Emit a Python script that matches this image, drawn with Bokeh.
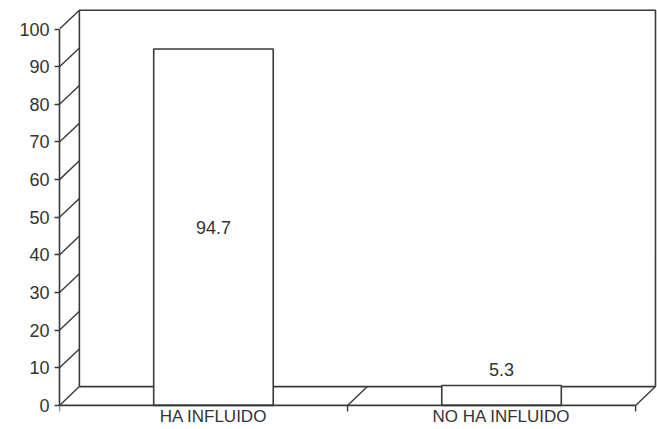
from bokeh.plotting import figure
from bokeh.models import Range1d, FixedTicker, ColumnDataSource
from bokeh.core.properties import value
from bokeh.embed import file_html
from bokeh.resources import INLINE

# ---- data ----
categories = ["HA INFLUIDO", "NO HA INFLUIDO"]
values = [94.7, 5.3]
value_labels = ["94.7", "5.3"]
y_ticks = [0, 10, 20, 30, 40, 50, 60, 70, 80, 90, 100]

# ---- style / geometry constants ----
INK = "#3a3a3a"
TXT = "#333333"
FONT = "Liberation Sans"
DEPTH_X = 0.069      # pseudo-3D depth, in category widths
DEPTH_Y = 5.0        # pseudo-3D depth, in value units
BAR_W = 0.415
X_END = 2.076
Y_START = -6.4
Y_END = 107.6
Y_MAX = 100
TICK_DOWN = 1.6      # length of floor tick marks, in value units

n = len(categories)
centers = [i + 0.5 + DEPTH_X / 2 for i in range(n)]

p = figure(width=657, height=429, x_range=Range1d(0, X_END), y_range=Range1d(Y_START, Y_END),
           output_backend="svg", toolbar_location=None,
           min_border_left=59, min_border_right=0, min_border_top=0, min_border_bottom=0)
p.outline_line_color = None
p.xgrid.visible = False
p.ygrid.visible = False
p.xaxis.visible = False
p.background_fill_color = "white"
p.border_fill_color = "white"

# back wall
wx0, wx1 = DEPTH_X, n + DEPTH_X
wy0, wy1 = DEPTH_Y, Y_MAX + DEPTH_Y
p.multi_line(xs=[[wx0, wx0, wx1, wx1], [wx0, wx1]],
             ys=[[wy0, wy1, wy1, wy0], [wy0, wy0]],
             line_color=INK, line_width=1.6)

# side-wall diagonals from the value ticks
p.segment(x0=[0] * len(y_ticks), y0=y_ticks,
          x1=[DEPTH_X] * len(y_ticks), y1=[t + DEPTH_Y for t in y_ticks],
          line_color=INK, line_width=1.4)
# floor diagonals at the category boundaries
bounds = list(range(1, n + 1))
p.segment(x0=bounds, y0=[0] * n, x1=[b + DEPTH_X for b in bounds], y1=[DEPTH_Y] * n,
          line_color=INK, line_width=1.4)

# bars
src = ColumnDataSource(dict(x=centers, top=values, cat=categories))
p.vbar(x="x", top="top", bottom=0, width=BAR_W, source=src,
       fill_color="white", line_color=INK, line_width=1.6)

# front floor edge with tick marks at the category boundaries
p.segment(x0=[0], y0=[0], x1=[n], y1=[0], line_color=INK, line_width=1.6)
edges = list(range(0, n + 1))
p.segment(x0=edges, y0=[0] * len(edges), x1=edges, y1=[-TICK_DOWN] * len(edges),
          line_color=INK, line_width=1.4)

# category labels
p.text(x=centers, y=[0] * n, text=categories, y_offset=2,
       text_font=value(FONT), text_font_size="17px", text_color=TXT,
       text_align="center", text_baseline="top")

# value labels
inside = [v > 50 for v in values]
p.text(x=[c for c, i in zip(centers, inside) if i],
       y=[v / 2 for v, i in zip(values, inside) if i],
       text=[t for t, i in zip(value_labels, inside) if i],
       text_font=value(FONT), text_font_size="18px", text_color=TXT,
       text_align="center", text_baseline="middle")
p.text(x=[c for c, i in zip(centers, inside) if not i],
       y=[v for v, i in zip(values, inside) if not i],
       text=[t for t, i in zip(value_labels, inside) if not i],
       text_font=value(FONT), text_font_size="18px", text_color=TXT,
       text_align="center", text_baseline="bottom", y_offset=-9)

# y axis (front)
ya = p.yaxis[0]
ya.ticker = FixedTicker(ticks=y_ticks)
ya.bounds = (0, Y_MAX)
ya.axis_line_color = INK
ya.axis_line_width = 1.6
ya.major_tick_line_color = INK
ya.major_tick_line_width = 1.4
ya.major_tick_out = 5
ya.major_tick_in = 0
ya.minor_tick_line_color = None
ya.major_label_standoff = 5
ya.major_label_text_font = FONT
ya.major_label_text_font_size = "18px"
ya.major_label_text_color = TXT

open("out.html", "w").write(file_html(p, INLINE))
